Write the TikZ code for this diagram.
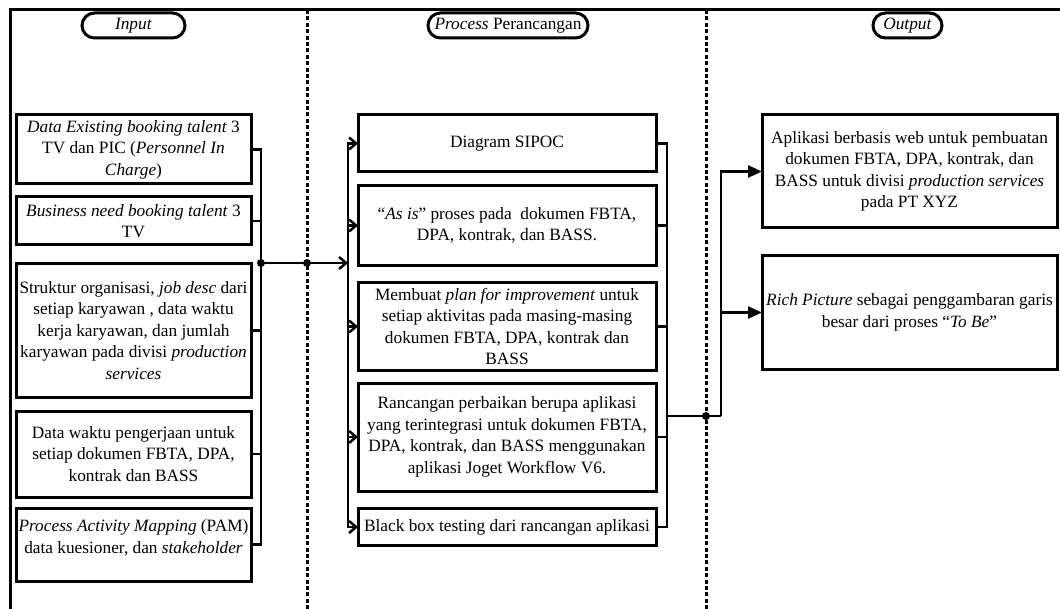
\documentclass[tikz,border=0pt]{standalone}
\usepackage{fontspec}
\setmainfont{Liberation Serif}
\usetikzlibrary{arrows.meta}

\tikzset{
  box/.style={draw, line width=1.5pt, align=center, inner sep=1pt, outer sep=0pt,
    font=\fontsize{8.65}{10.75}\selectfont},
  inbox/.style={box, minimum width=117.5pt},
  procbox/.style={box, minimum width=149pt},
  resbox/.style={box, minimum width=147.5pt},
  pill/.style={draw, line width=1.5pt, rounded corners=6.25pt, minimum height=12.5pt,
    inner sep=1pt, outer sep=0pt, font=\fontsize{8.65}{10.75}\selectfont},
  lane/.style={line width=1.5pt, dash pattern=on 2pt off 1.2pt},
  wire/.style={line width=1.25pt},
  feed/.style={wire, -{Straight Barb[length=3.5pt,width=6pt,line width=1.25pt]}},
  result/.style={wire, -{Triangle[length=7pt,width=6pt]}},
  joint/.style={circle, fill, inner sep=0pt, minimum size=4pt}
}

\begin{document}
\begin{tikzpicture}[x=0.5pt, y=-0.5pt]
\useasboundingbox (0,0) rectangle (1060,609);
% Frame and lanes
\draw[line width=1.5pt] (10,609) -- (10,10) -- (1060,10);
\draw[lane] (307,10) -- (307,609);
\draw[lane] (706,10) -- (706,609);
% Headers
\node[pill, minimum width=51.5pt] (hIn) at (133.5,25.5) {\textit{Input}};
\node[pill, minimum width=80pt] (hPr) at (508,25.5) {\textit{Process} Perancangan};
\node[pill, minimum width=34.5pt] (hOut) at (907.5,25.5) {\textit{Output}};
% Input
\node[inbox, minimum height=34.5pt] (inA) at (133.5,149.5)
  {\textit{Data Existing booking talent} 3\\ TV dan PIC (\textit{Personnel In}\\ \textit{Charge})};
\node[inbox, minimum height=24pt] (inB) at (133.5,221)
  {\textit{Business need booking talent} 3\\ TV};
\node[inbox, minimum height=66.5pt] (inC) at (133.5,330.5)
  {Struktur organisasi, \textit{job desc} dari\\ setiap karyawan , data waktu\\ kerja karyawan, dan jumlah\\ karyawan pada divisi \textit{production}\\ \textit{services}};
\node[inbox, minimum height=43pt] (inD) at (133.5,454)
  {Data waktu pengerjaan untuk\\ setiap dokumen FBTA, DPA,\\ kontrak dan BASS};
\node[inbox, minimum height=36.5pt, text depth=8pt] (inE) at (133.5,544.5)
  {\textit{Process Activity Mapping} (PAM)\\ data kuesioner, dan \textit{stakeholder}};
% Process
\node[procbox, minimum height=28.5pt] (prA) at (507,143.5) {Diagram SIPOC};
\node[procbox, minimum height=40pt] (prB) at (507,225.5)
  {“\textit{As is}” proses pada\ \ dokumen FBTA,\\ DPA, kontrak, dan BASS.};
\node[procbox, minimum height=43.5pt] (prC) at (507,326.5)
  {Membuat \textit{plan for improvement} untuk\\ setiap aktivitas pada masing-masing\\ dokumen FBTA, DPA, kontrak dan\\ BASS};
\node[procbox, minimum height=54pt] (prD) at (507,437)
  {Rancangan perbaikan berupa aplikasi\\ yang terintegrasi untuk dokumen FBTA,\\ DPA, kontrak, dan BASS menggunakan\\ aplikasi Joget Workflow V6.};
\node[procbox, minimum height=18.5pt] (prE) at (507,527)
  {Black box testing dari rancangan aplikasi};
% Output
\node[resbox, minimum height=56.5pt] (outA) at (909.5,171.5)
  {Aplikasi berbasis web untuk pembuatan\\ dokumen FBTA, DPA, kontrak, dan\\ BASS untuk divisi \textit{production services}\\ pada PT XYZ};
\node[resbox, minimum height=56.5pt] (outB) at (909.5,312.5)
  {\textit{Rich Picture} sebagai penggambaran garis\\ besar dari proses “\textit{To Be}”};
% Junctions
\coordinate (jIn) at (261,263);
\coordinate (jMid) at (348,263);
\coordinate (jOut) at (667,416);
\coordinate (jTurn) at (721,416);
% Connectors
\foreach \b in {inA,inB,inC,inD,inE}
  \draw[wire] (\b.east) -| (jIn);
\draw[feed] (jIn) -- (jMid);
\foreach \b in {prA,prB,prC,prD,prE}
  \draw[feed] (jMid) |- (\b.west);
\foreach \b in {prA,prB,prC,prD,prE}
  \draw[wire] (\b.east) -| (jOut);
\draw[wire] (jOut) -- (jTurn);
\draw[result] (jTurn) |- (outA.west);
\draw[result] (jTurn) |- (outB.west);
\node[joint] at (jIn) {};
\node[joint] at (307,263) {};
\node[joint] at (706,416) {};
\end{tikzpicture}
\end{document}
